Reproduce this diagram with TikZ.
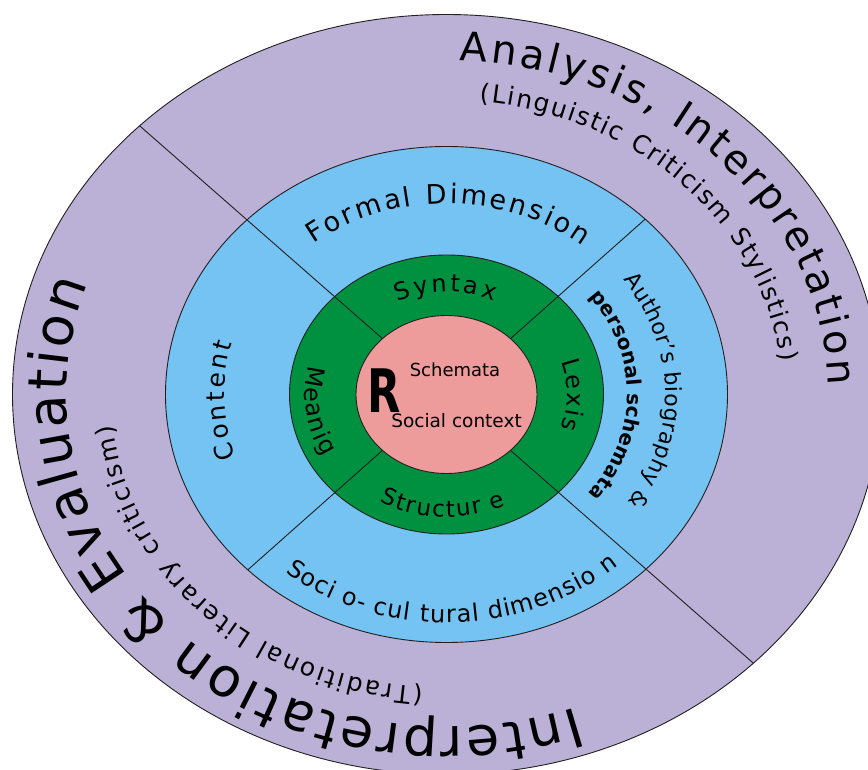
\documentclass[tikz,border=0pt]{standalone}
\usepackage{fontspec}
\setmainfont{DejaVu Sans}
\usetikzlibrary{shapes.geometric,decorations.text}
\definecolor{outerpurple}{RGB}{187,177,214}
\definecolor{ringblue}{RGB}{116,195,242}
\definecolor{ringgreen}{RGB}{0,145,64}
\definecolor{corepink}{RGB}{238,155,155}
\definecolor{linegray}{RGB}{35,31,32}
\tikzset{
  ring/.style={ellipse, draw=linegray, line width=0.9pt, inner sep=0pt, outer sep=0pt},
  divider/.style={draw=linegray, line width=0.9pt},
  arctext/.style={decorate, decoration={text along path, text align=fit to path, text={#1}}},
  flattext/.style={anchor=base, inner sep=0pt}
}
\begin{document}
\begin{tikzpicture}[x=1pt,y=1pt]
\useasboundingbox (-446.5,-375.5) rectangle (421.5,394.5);
\begin{scope}
\clip (-446.5,-375.5) rectangle (421.5,394.5);
% rings
\node[ring, fill=outerpurple, minimum width=868pt, minimum height=760pt] (outer) at (0,0) {};
\node[ring, fill=ringblue, minimum width=562pt, minimum height=496pt] (blue) at (0,0) {};
\node[ring, fill=ringgreen, minimum width=314pt, minimum height=279pt] (green) at (0,0) {};
\node[ring, fill=corepink, minimum width=181pt, minimum height=158pt] (core) at (0,0) {};
% dividers
\draw[divider] (core.north west) -- (outer.north west);
\draw[divider] (core.south east) -- (outer.south east);
\draw[divider] (core.north east) -- (blue.north east);
\draw[divider] (core.south west) -- (blue.south west);
% core texts
\node[flattext, font=\fontsize{60}{60}\selectfont\bfseries, xscale=0.72] (rletter) at (-62,-18.5) {R};
\node[flattext, font=\fontsize{18}{18}\selectfont] (schem) at (8.5,17.5) {Schemata};
\node[flattext, font=\fontsize{18.5}{18.5}\selectfont] (social) at (10,-33.5) {Social context};
% outer ring texts
\path[arctext={|\fontsize{40}{40}\selectfont|Analysis, Interpretation}]
  (88:382pt and 334pt) arc[start angle=88, end angle=1.6, x radius=382pt, y radius=334pt];
\path[arctext={|\fontsize{25}{25}\selectfont|(Linguistic Criticism Stylistics)}]
  (84.3:336pt and 294.5pt) arc[start angle=84.3, end angle=6.4, x radius=336pt, y radius=294.5pt];
\path[arctext={|\fontsize{54}{54}\selectfont|Interpretation {\&} Evaluation}]
  (-70:380pt and 332.5pt) arc[start angle=-70, end angle=-199.6, x radius=380pt, y radius=332.5pt];
\path[arctext={|\fontsize{25}{25}\selectfont|(Traditional Literary criticism)}]
  (-94:335.5pt and 293.7pt) arc[start angle=-94, end angle=-174, x radius=335.5pt, y radius=293.7pt];
% blue ring texts
\path[arctext={|\fontsize{27}{27}\selectfont|Formal Dimension}]
  (128:216.4pt and 191pt) arc[start angle=128, end angle=51, x radius=216.4pt, y radius=191pt];
\path[arctext={|\fontsize{25}{25}\selectfont|Content}]
  (198.6:222pt and 196pt) arc[start angle=198.6, end angle=164.8, x radius=222pt, y radius=196pt];
\path[arctext={|\fontsize{24}{24}\selectfont|Soci o- cul tural dimensio n}]
  (-128.6:258.6pt and 228.2pt) arc[start angle=-128.6, end angle=-48.4, x radius=258.6pt, y radius=228.2pt];
\path[arctext={|\fontsize{22}{22}\selectfont|Author’s biography {\&}}]
  (36.3:219pt and 193.4pt) arc[start angle=36.3, end angle=-34, x radius=219pt, y radius=193.4pt];
\path[arctext={|\fontsize{20}{20}\selectfont\bfseries|personal schemata}]
  (37.7:181pt and 160pt) arc[start angle=37.7, end angle=-38.4, x radius=181pt, y radius=160pt];
% green ring texts
\path[arctext={|\fontsize{24}{24}\selectfont|Syntax}]
  (115:115.4pt and 102.5pt) arc[start angle=115, end angle=66, x radius=115.4pt, y radius=102.5pt];
\path[arctext={|\fontsize{24}{24}\selectfont|Lexis}]
  (18:120.5pt and 107pt) arc[start angle=18, end angle=-18.5, x radius=120.5pt, y radius=107pt];
\path[arctext={|\fontsize{23}{23}\selectfont|Structur e}]
  (-119:137.9pt and 122.5pt) arc[start angle=-119, end angle=-64.5, x radius=137.9pt, y radius=122.5pt];
\path[arctext={|\fontsize{24}{24}\selectfont|Meanig}]
  (166.5:141.5pt and 125.7pt) arc[start angle=166.5, end angle=209.8, x radius=141.5pt, y radius=125.7pt];
\end{scope}
\end{tikzpicture}
\end{document}
